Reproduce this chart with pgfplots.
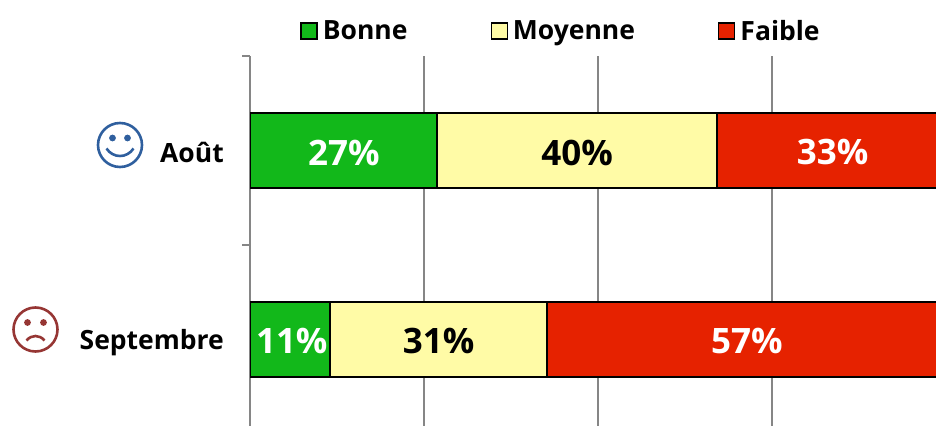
\documentclass[border=0pt]{standalone}
\usepackage{fontspec}
\setmainfont{Open Sans}[BoldFont={Open Sans Bold}]
\usepackage{pgfplots}
\pgfplotsset{compat=1.18}
\definecolor{cgreen}{HTML}{12B81A}
\definecolor{cyellow}{HTML}{FFFBA6}
\definecolor{cred}{HTML}{E62200}
\definecolor{cgrid}{HTML}{868686}
\definecolor{cblue}{HTML}{2F5F9E}
\definecolor{cdred}{HTML}{963634}
\newcommand{\lab}{\fontsize{26.5}{26.5}\selectfont\bfseries}
\newcommand{\val}{\fontsize{35}{35}\selectfont\bfseries}
\begin{document}
\begin{tikzpicture}[x=1pt,y=1pt]
\path[use as bounding box] (0,0) rectangle (936,426);
\begin{axis}[
  at={(250pt,370pt)}, anchor=north west,
  scale only axis, width=686pt, height=370pt,
  xbar stacked, bar width=75pt,
  xmin=0, xmax=98.56, ymin=0, ymax=1.958, y dir=reverse,
  xtick={0,25,50,75}, xticklabels={}, 
  xmajorgrids, major grid style={cgrid,line width=1.4pt},
  ytick={0,1}, yticklabels={}, tick align=outside, tick pos=left,
  x tick style={draw=none},
  y tick style={cgrid,line width=1.2pt}, major tick length=8pt,
  axis x line*=bottom, axis y line*=left,
  x axis line style={draw=none}, y axis line style={cgrid,line width=1.4pt,-},
  clip=true,
  legend columns=3,
  legend style={at={(0.4534,1.0676)},anchor=center,draw=none,fill=none,
    font=\lab, inner sep=0pt,
    /tikz/column 1/.style={column sep=3pt},
    /tikz/column 2/.style={column sep=81pt},
    /tikz/column 3/.style={column sep=3pt},
    /tikz/column 4/.style={column sep=81pt},
    /tikz/column 5/.style={column sep=3pt}},
  after end axis/.code={
    \node[white,font=\val,yshift=-2pt] at (axis cs:13.5,0.5) {27\%};
    \node[black,font=\val,yshift=-2pt] at (axis cs:47,0.5) {40\%};
    \node[white,font=\val,yshift=-2pt] at (axis cs:83.7,0.5) {33\%};
    \node[white,font=\val,yshift=-2pt] at (axis cs:6,1.5) {11\%};
    \node[black,font=\val,yshift=-2pt] at (axis cs:27.1,1.5) {31\%};
    \node[white,font=\val,yshift=-2pt] at (axis cs:71.4,1.5) {57\%};
  },
]
\addplot[fill=cgreen,draw=black,line width=1.6pt,
  legend image code/.code={\draw[fill=cgreen,draw=black,line width=1.4pt] (0pt,-8pt) rectangle (16pt,8pt);}]
  coordinates {(26.9,0.5) (11.5,1.5)};
\addlegendentry{Bonne}
\addplot[fill=cyellow,draw=black,line width=1.6pt,
  legend image code/.code={\draw[fill=cyellow,draw=black,line width=1.4pt] (0pt,-8pt) rectangle (16pt,8pt);}]
  coordinates {(40.2,0.5) (31.2,1.5)};
\addlegendentry{Moyenne}
\addplot[fill=cred,draw=black,line width=1.6pt,
  legend image code/.code={\draw[fill=cred,draw=black,line width=1.4pt] (0pt,-8pt) rectangle (16pt,8pt);}]
  coordinates {(33,0.5) (57.3,1.5)};
\addlegendentry{Faible}
\end{axis}
\node[anchor=east,font=\lab,inner sep=0pt] at (224,274) {Août};
\node[anchor=east,font=\lab,inner sep=0pt] at (224,83) {Septembre};
% smiley
\begin{scope}[shift={(120,281)}]
 \draw[cblue,line width=2.6pt] (0,0) circle (22);
 \fill[cblue] (-7.5,7) circle (3.4) (7.5,7) circle (3.4);
 \draw[cblue,line width=2.6pt] (-13.5,-3.5) .. controls (-7,-13.5) and (7,-13.5) .. (13.5,-3.5);
\end{scope}
\begin{scope}[shift={(35.5,96.5)}]
 \draw[cdred,line width=2.6pt] (0,0) circle (22);
 \fill[cdred] (-8,7) circle (3.4) (8,7) circle (3.4);
 \draw[cdred,line width=2.6pt] (-9,-11) .. controls (-4,-5) and (4,-5) .. (9,-11);
\end{scope}
\end{tikzpicture}
\end{document}
